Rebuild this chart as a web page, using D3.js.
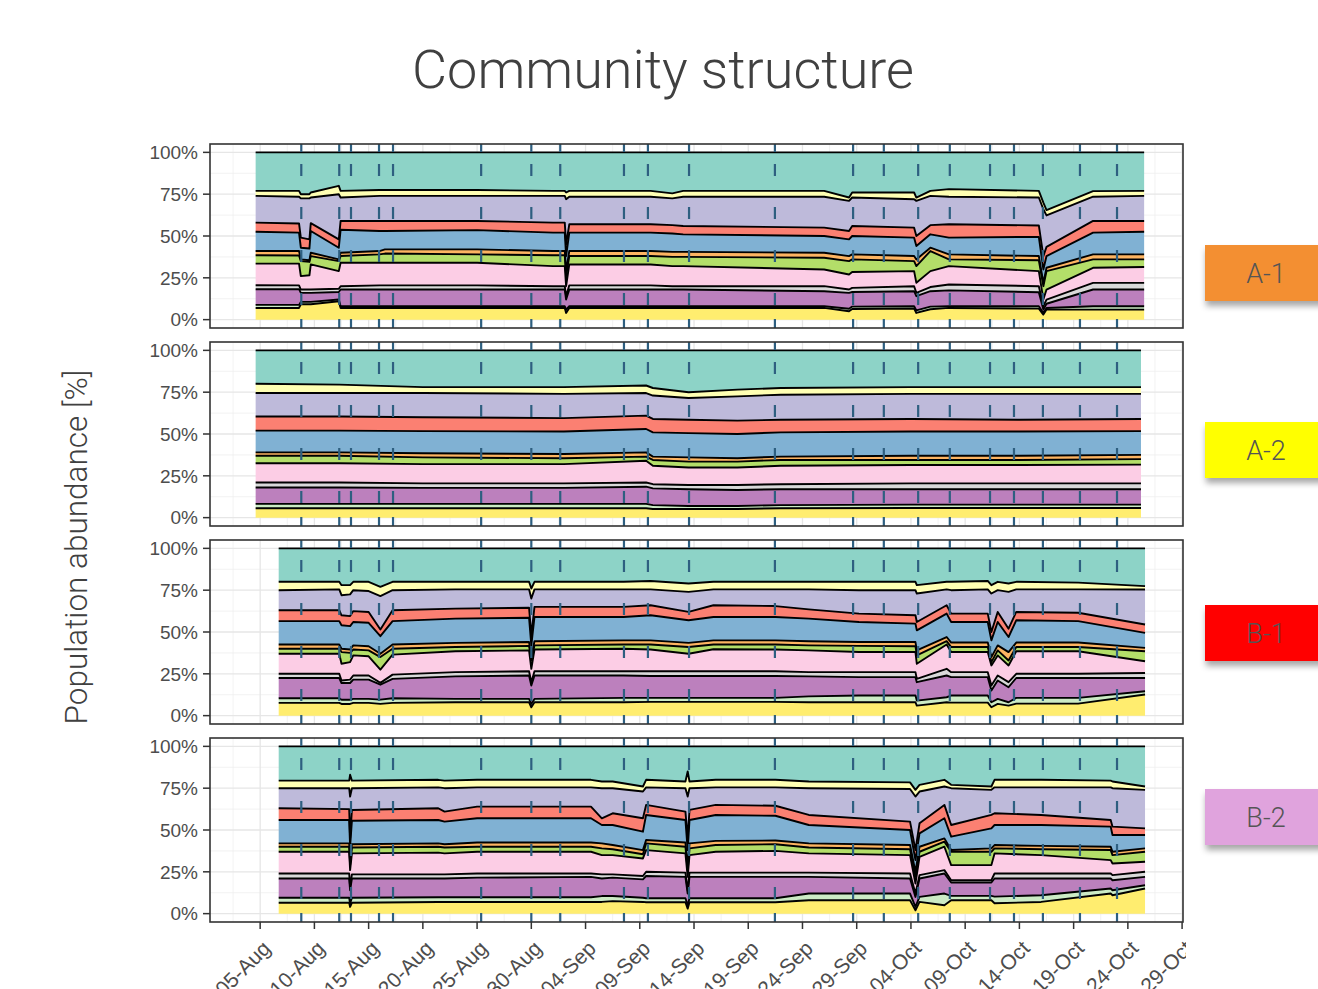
<!DOCTYPE html>
<html>
<head>
<meta charset="utf-8">
<script src="https://cdn.jsdelivr.net/npm/d3@7"></script>
<style>
  body { margin: 0; background: #ffffff; }
  svg { display: block; }
</style>
</head>
<body>
<svg id="chart" width="1318" height="989"></svg>
<script>
// ---------------------------------------------------------------------------
// Data
// ---------------------------------------------------------------------------
// Taxa, listed from the top of the stack to the bottom.
const taxa = ["T01", "T02", "T03", "T04", "T05", "T06", "T07", "T08", "T09", "T10", "T11", "T12"];

// Reactor labels shown at the right of each panel.
const sites = ["A-1", "A-2", "B-1", "B-2"];

// Date axis.
const xLimits = ["2021-07-31 09:00", "2021-10-29 02:00"];
const xTickLabels = ["05-Aug", "10-Aug", "15-Aug", "20-Aug", "25-Aug", "30-Aug", "04-Sep", "09-Sep",
  "14-Sep", "19-Sep", "24-Sep", "29-Sep", "04-Oct", "09-Oct", "14-Oct", "19-Oct", "24-Oct", "29-Oct"];
const yTickValues = [0, 0.25, 0.5, 0.75, 1];

// Operational events marked with dashed lines.
const eventTimes = ["2021-08-08 19:00", "2021-08-12 07:00", "2021-08-13 09:00", "2021-08-15 23:00",
  "2021-08-17 06:00", "2021-08-25 09:00", "2021-08-30 00:00", "2021-09-01 16:00", "2021-09-07 13:00",
  "2021-09-09 18:00", "2021-09-13 13:00", "2021-09-21 11:00", "2021-09-28 16:00", "2021-10-01 12:00",
  "2021-10-04 16:00", "2021-10-07 14:00", "2021-10-11 07:00", "2021-10-13 12:00", "2021-10-16 04:00",
  "2021-10-19 14:00", "2021-10-23 00:00"];

// Relative abundance [%] per sampling time; each row follows the order of `taxa`.
const timesA1 = ["2021-08-04 14:00", "2021-08-08 14:00", "2021-08-08 18:00", "2021-08-09 13:00",
  "2021-08-09 16:00", "2021-08-12 06:00", "2021-08-12 10:00", "2021-08-16 00:00", "2021-08-16 12:00",
  "2021-08-25 00:00", "2021-09-01 00:00", "2021-09-02 02:00", "2021-09-02 05:00", "2021-09-02 12:00",
  "2021-09-10 00:00", "2021-09-12 00:00", "2021-09-13 00:00", "2021-09-26 00:00", "2021-09-28 07:00",
  "2021-09-28 14:00", "2021-10-04 07:00", "2021-10-04 12:00", "2021-10-05 19:00", "2021-10-07 12:00",
  "2021-10-15 19:00", "2021-10-16 05:00", "2021-10-16 12:00", "2021-10-20 19:00", "2021-10-25 12:00"];
const abundA1 = [
  [23, 3, 16, 5.5, 11.5, 2.5, 5, 12.9, 2.4, 9.4, 1.8, 7],
  [23, 3.5, 16, 5.5, 11, 2.7, 4.8, 13, 2.3, 9.4, 1.8, 7],
  [25, 2.5, 23.5, 6, 7, 1, 9, 8, 2, 5.4, 1.4, 9.2],
  [25, 2.5, 24.5, 5.5, 7, 1, 8, 8.5, 2, 5.4, 1.4, 9.2],
  [24, 3, 15.3, 4.7, 13, 2, 5, 15, 2, 5.4, 1.4, 9.2],
  [20, 5, 27, 5, 7, 1, 6, 10.5, 2, 4.5, 1, 11],
  [23, 4, 14, 5.3, 13.7, 2, 4, 14, 2, 10, 1, 7],
  [22.5, 3.5, 15, 6, 12, 2, 5, 13.5, 2.5, 10, 1, 7],
  [22.5, 3.5, 15, 6, 11, 2.5, 5.5, 13.5, 2.5, 10, 1, 7],
  [22.5, 3.5, 15, 5.5, 11.5, 3, 5, 13.5, 2.5, 10, 1, 7],
  [23, 3, 16, 6, 11, 2.5, 6.5, 12, 2, 10, 1, 7],
  [23, 3, 16, 6, 11, 2.5, 6.5, 12, 2, 10, 1, 7],
  [24, 4, 27, 7, 9, 3, 6, 6, 2, 6, 2, 4],
  [23, 3.5, 16.5, 5, 11, 3, 5, 12.5, 2.5, 10, 1, 7],
  [23, 3.5, 16.5, 5, 11, 3, 5, 12.5, 2.5, 10, 1, 7],
  [24.5, 3, 16, 5, 11, 3, 5.5, 12, 2, 10, 1, 7],
  [23, 3.5, 17.5, 5, 10.5, 3, 5.5, 12, 2, 10, 1, 7],
  [23, 3.5, 18.5, 5, 10, 3, 7, 10, 3, 9, 1, 7],
  [27, 2, 18, 5, 10, 3, 8, 9, 2, 9.5, 1.5, 5],
  [24, 3, 17, 6, 11, 3, 7.5, 9.5, 2.5, 8.7, 1.4, 6.4],
  [24, 4, 17, 6, 11, 3, 6, 9, 3, 9, 1.4, 6.6],
  [27, 2, 21, 6, 8, 4, 10, 6, 2, 8.5, 1.5, 4],
  [23, 3, 17.5, 5.5, 8, 2, 12, 9.5, 2.5, 9.2, 1.6, 6.2],
  [22, 4.5, 16.5, 8, 10, 3, 4, 11, 3.5, 9.5, 1, 7],
  [23, 4, 16.7, 6.8, 11.5, 2.5, 6.5, 9, 3.6, 8.4, 1.4, 6.6],
  [30, 4, 28, 8, 8, 2, 8, 4, 2, 2, 1, 3],
  [34.5, 3.2, 18.8, 5.5, 7, 2, 11, 6, 2.5, 2.5, 1, 6],
  [23.2, 3.3, 14.5, 7, 13, 3, 5, 9, 4, 10, 2, 6],
  [23, 3, 15, 6.5, 13.5, 3, 4.5, 9.5, 4, 10, 2, 6]
];

const timesA2 = ["2021-08-04 14:00", "2021-08-12 07:00", "2021-08-20 00:00", "2021-09-02 00:00",
  "2021-09-09 14:00", "2021-09-10 05:00", "2021-09-13 12:00", "2021-09-18 00:00", "2021-09-22 00:00",
  "2021-10-04 00:00", "2021-10-14 00:00", "2021-10-25 05:00"];
const abundA2 = [
  [20, 5.5, 14, 8.5, 13, 2, 4.5, 11.5, 3, 9.8, 2.6, 5.6],
  [20.5, 5, 14, 8.5, 13, 2, 4.5, 11.5, 3, 9.8, 2.6, 5.6],
  [22, 3.5, 14.5, 8.3, 13.2, 2.5, 4, 11.5, 2.7, 9.6, 2.6, 5.6],
  [22, 4, 14.5, 8, 13.5, 2.5, 3.5, 11.5, 2.7, 9.6, 2.6, 5.6],
  [21, 4.5, 13.5, 8, 14, 2.5, 2.5, 13, 2.5, 10.3, 2.6, 5.6],
  [22.5, 4.5, 14, 8, 14.5, 2, 3.5, 11, 2.5, 10, 2.3, 5.2],
  [25, 3.5, 13, 8, 14.5, 2.5, 3.5, 10.5, 2.5, 10, 1.8, 5.2],
  [23.5, 4, 14.5, 8, 14.5, 2, 3.5, 10.5, 3, 9.5, 1.8, 5.2],
  [22.5, 4, 15, 7.5, 14.5, 2, 3.5, 11, 3, 9.5, 1.9, 5.6],
  [22, 4, 15, 7.5, 14.5, 2.5, 3, 11, 3.5, 9.2, 2, 5.8],
  [22, 4, 15.5, 7, 14.5, 2.5, 3, 11, 3.5, 9.2, 2, 5.8],
  [22, 4, 15, 7.3, 14.2, 2.5, 3.3, 11.2, 3.5, 9.2, 2, 5.8]
];

const timesB1 = ["2021-08-06 17:00", "2021-08-12 07:00", "2021-08-12 12:00", "2021-08-13 07:00",
  "2021-08-13 14:00", "2021-08-15 00:00", "2021-08-16 02:00", "2021-08-17 05:00", "2021-08-23 00:00",
  "2021-08-29 19:00", "2021-08-30 00:00", "2021-08-30 07:00", "2021-09-07 12:00", "2021-09-10 00:00",
  "2021-09-13 12:00", "2021-09-15 19:00", "2021-09-21 12:00", "2021-09-24 14:00", "2021-09-29 05:00",
  "2021-10-04 10:00", "2021-10-04 13:00", "2021-10-07 07:00", "2021-10-07 17:00", "2021-10-11 02:00",
  "2021-10-11 10:00", "2021-10-12 00:00", "2021-10-13 00:00", "2021-10-13 17:00", "2021-10-19 10:00",
  "2021-10-25 14:00"];
const abundB1 = [
  [20, 5, 12, 6.5, 14, 2.5, 3, 12, 2.5, 12.1, 2.8, 7.6],
  [20, 4.5, 12.5, 6.5, 14, 2.5, 3, 12, 2.5, 12.1, 2.8, 7.6],
  [22, 6, 12, 6, 14, 2, 7, 10, 1.5, 10, 2.5, 7],
  [22, 5.5, 13, 6, 14, 2, 5.5, 10.5, 2, 10, 2.5, 7],
  [20, 5, 12.5, 6.5, 14, 2.5, 3.5, 12, 2.5, 11.5, 2.4, 7.6],
  [20, 5.5, 12.5, 6.5, 14, 2.5, 3.5, 11.5, 2.5, 11.5, 2.4, 7.6],
  [23, 5.5, 20, 4, 10.5, 2, 7.5, 7.9, 1.1, 8.9, 2.6, 7],
  [20, 5, 12, 6.5, 14, 2.5, 3.5, 12, 2.5, 11.6, 2.8, 7.6],
  [20, 4.5, 11.5, 6, 14.5, 2.5, 2.5, 12.5, 2.5, 13.5, 2, 8],
  [20, 4.5, 11, 6, 14.5, 2.3, 2.7, 12.5, 2.5, 14, 2, 8],
  [24, 6, 22, 6, 7, 2, 5, 8, 2, 11, 2, 5],
  [20, 4.5, 10.5, 6, 14.5, 2.5, 2.5, 13, 2.5, 14, 2, 8],
  [20, 4.5, 10.5, 6, 14, 2.5, 2.5, 13.5, 2.5, 13.4, 2.6, 8],
  [19.5, 5, 9.5, 6, 15, 2.5, 3, 13, 2.8, 13.1, 2.4, 8.2],
  [21, 5, 12, 5, 13.5, 2.5, 4, 10.5, 2.8, 13.1, 2.4, 8.2],
  [20, 4.5, 9.5, 7, 14, 2.5, 2.8, 13.2, 2.8, 13.1, 2.4, 8.2],
  [20, 4.5, 10, 6.5, 14, 2.5, 3, 13, 2.8, 13.1, 2.4, 8.2],
  [20, 4.5, 12, 5.5, 13.5, 2.5, 3, 13, 2.5, 12, 3.5, 8],
  [20, 5, 14, 5, 12, 2.3, 3.7, 12, 3, 11, 4, 8],
  [20, 5, 15, 5, 11, 2.5, 3.5, 12, 3, 11, 4, 8],
  [22, 5, 17, 5, 12, 3, 5, 9, 2, 11, 3, 6],
  [20, 4.5, 9.5, 5, 14, 2.5, 2, 14.5, 4, 13, 3, 8],
  [20, 5, 14, 5, 12.3, 2.7, 3, 12, 3, 11, 4.2, 7.8],
  [19.5, 5, 14.5, 5, 12.3, 2.7, 3, 12, 3, 11, 4.2, 7.8],
  [22, 5, 23, 5, 10, 3, 2, 12, 3, 7, 3, 5],
  [20, 5, 13, 6, 14, 3, 3, 12, 3, 11, 3, 7],
  [21, 5, 22, 5, 9, 5, 3, 10, 3, 9, 2, 6],
  [20, 4.5, 13.5, 5, 13.3, 2.7, 2.5, 13.5, 2.5, 11.9, 3.4, 7.2],
  [20.5, 4, 14, 5, 12.8, 2.7, 2.5, 13.5, 2.5, 11.9, 3.4, 7.2],
  [22.6, 2, 20.9, 5, 9, 2, 6, 7, 3, 7.9, 2, 12.6]
];

const timesB2 = ["2021-08-06 17:00", "2021-08-13 05:00", "2021-08-13 07:00", "2021-08-13 11:00",
  "2021-08-21 10:00", "2021-08-22 00:00", "2021-08-25 00:00", "2021-09-04 12:00", "2021-09-05 12:00",
  "2021-09-06 12:00", "2021-09-09 07:00", "2021-09-09 14:00", "2021-09-13 05:00", "2021-09-13 10:00",
  "2021-09-13 14:00", "2021-09-16 00:00", "2021-09-21 12:00", "2021-09-24 14:00", "2021-10-03 22:00",
  "2021-10-04 10:00", "2021-10-04 19:00", "2021-10-07 02:00", "2021-10-07 17:00", "2021-10-11 10:00",
  "2021-10-11 17:00", "2021-10-16 00:00", "2021-10-22 10:00", "2021-10-22 14:00", "2021-10-25 14:00"];
const abundB2 = [
  [20.5, 4.5, 12, 7, 14, 2, 3, 13, 3, 11.5, 3, 6.5],
  [20.5, 4.5, 12.5, 6.5, 14, 2, 3, 13, 3, 11.5, 3, 6.5],
  [17, 13, 25, 5, 9, 2, 3, 10, 2, 8, 2, 4],
  [20.5, 4.5, 13, 6.5, 14, 2, 3.5, 12.5, 2.5, 11.5, 3, 6.5],
  [20, 4.5, 12.5, 7, 14, 2, 3.5, 13, 2.5, 11.2, 2.8, 7],
  [20.5, 4.5, 14, 6, 13.5, 2, 3.5, 12.5, 2.5, 11.2, 2.8, 7],
  [20, 4.5, 11.5, 7, 14.5, 2.5, 3, 13, 2.5, 11.7, 2.8, 7],
  [20, 4.5, 11.5, 7, 14.5, 2.5, 3, 13, 2, 12.2, 2.8, 7],
  [21, 4, 18, 4, 11, 3, 4, 11.5, 2.5, 10.5, 3.5, 7],
  [21, 4, 15, 7, 12, 2.5, 3.5, 11.5, 2, 11, 3, 7.5],
  [24, 3, 16, 8, 11, 2.5, 2.5, 10.5, 2, 11, 2.5, 7],
  [20, 4.5, 10.5, 6, 15, 2, 4, 13, 2.5, 13.3, 2.4, 6.8],
  [21, 4, 14, 5, 13.5, 2.5, 4, 11.5, 2.5, 12.8, 2.4, 6.8],
  [15, 15, 25, 7, 10, 2, 4, 8, 2, 7, 2, 3],
  [21, 4, 13, 6, 14, 3, 4, 10.5, 2.5, 12.8, 2.4, 6.8],
  [20, 4.5, 10.5, 6, 15.5, 2.5, 4, 12.5, 2.5, 12.8, 2.4, 6.8],
  [20, 4.5, 11, 6, 14.8, 2.2, 4, 13, 2.5, 12.8, 2.4, 6.8],
  [21, 4, 16, 6, 11, 2.5, 3.5, 11.5, 2.5, 10, 4, 8],
  [21.5, 4, 19.5, 5, 9, 2.5, 3.5, 11, 3, 9, 4, 8],
  [26, 4, 32, 6, 7, 3, 4, 6, 2, 6, 2, 2],
  [23, 4, 19, 6, 8, 3, 3, 11, 2, 11, 3, 7],
  [20, 4, 11, 8, 12, 2, 3, 14, 2, 12, 7, 5],
  [23, 2, 22, 7, 8, 1, 8, 9, 1.4, 8, 2.6, 8],
  [24, 2, 15, 8, 12, 2, 8, 9, 1.4, 8, 2.6, 8],
  [20, 4.5, 15.5, 7, 12, 2, 3, 12, 3, 10.8, 4, 6.2],
  [20, 4.5, 16.5, 6, 12.5, 2, 3.5, 11, 3, 10, 4, 7],
  [20.5, 4, 19.5, 4, 12, 2, 6, 8, 3, 6, 3, 12],
  [21, 4, 23, 5, 10, 2, 5, 7, 3, 6, 3, 11],
  [24, 2, 23, 4, 8, 2, 6, 6, 3, 5, 2, 15]
];

// ---------------------------------------------------------------------------
// Styling and layout
// ---------------------------------------------------------------------------
const taxonColors = d3.schemeSet3;                 // 12 colours, top of stack first
const siteColors = ["#F38F32", "#FFFF00", "#FF0000", "#E0A3DD"];
const siteBoxTops = [245, 422, 605, 789];

const plotLeft = 210, plotRight = 1183;
const panelTops = [144, 342, 540, 738];
const panelH = 184;
const figureRight = 1186;                           // the figure is cropped here

// dash pattern of the event markers, measured from the top of each panel
const eventDash = "8,12,12,31,12,31,12,31,12,14,9,60";

const axisFont = "'Liberation Sans', Arial, sans-serif";
const lightFont = "Roboto, 'Open Sans', sans-serif";

const parseTime = d3.timeParse("%Y-%m-%d %H:%M");
const parseTick = d3.timeParse("%d-%b-%Y");

const svg = d3.select("#chart");
svg.append("rect").attr("width", 1318).attr("height", 989).attr("fill", "#ffffff");

const defs = svg.append("defs");
const shadow = defs.append("filter").attr("id", "boxShadow")
  .attr("x", "-10%").attr("y", "-20%").attr("width", "130%").attr("height", "170%");
shadow.append("feDropShadow").attr("dx", 1).attr("dy", 5).attr("stdDeviation", 3)
  .attr("flood-color", "#000").attr("flood-opacity", 0.35);
defs.append("clipPath").attr("id", "figureClip")
  .append("rect").attr("x", 0).attr("y", 0).attr("width", figureRight).attr("height", 989);

const x = d3.scaleTime().domain(xLimits.map(parseTime)).range([plotLeft, plotRight]);
const tickDates = xTickLabels.map(l => parseTick(l + "-2021"));
const minorDates = [];
tickDates.forEach(t => {
  [d3.timeHour.offset(t, -60), d3.timeHour.offset(t, 60)].forEach(m => {
    if (m >= x.domain()[0] && m <= x.domain()[1] && !minorDates.some(o => +o === +m)) minorDates.push(m);
  });
});
const events = eventTimes.map(parseTime);

// Title
svg.append("text")
  .attr("x", 663).attr("y", 88)
  .attr("text-anchor", "middle")
  .attr("font-family", lightFont).attr("font-weight", 300)
  .attr("font-size", 54).attr("fill", "#404040")
  .text("Community structure");

// Y axis title
svg.append("text")
  .attr("transform", "translate(87,547) rotate(-90)")
  .attr("text-anchor", "middle")
  .attr("font-family", lightFont).attr("font-weight", 300)
  .attr("font-size", 31.5).attr("fill", "#404040")
  .text("Population abundance [%]");

const panels = [
  { times: timesA1, rows: abundA1 },
  { times: timesA2, rows: abundA2 },
  { times: timesB1, rows: abundB1 },
  { times: timesB2, rows: abundB2 }
];

const stackKeys = taxa.slice().reverse();          // bottom layer first
const colorOf = d3.scaleOrdinal().domain(taxa).range(taxonColors);

panels.forEach((p, i) => {
  const top = panelTops[i];
  const bottom = top + panelH;
  const y = d3.scaleLinear().domain([-0.05, 1.05]).range([bottom, top]);

  const records = p.times.map((t, j) => {
    const rec = { date: parseTime(t) };
    taxa.forEach((k, m) => { rec[k] = p.rows[j][m]; });
    return rec;
  });
  const layers = d3.stack().keys(stackKeys).offset(d3.stackOffsetExpand)(records);

  const g = svg.append("g");
  const clipId = "clip" + i;
  defs.append("clipPath").attr("id", clipId)
    .append("rect").attr("x", plotLeft).attr("y", top).attr("width", plotRight - plotLeft).attr("height", panelH);

  g.append("rect").attr("x", plotLeft).attr("y", top)
    .attr("width", plotRight - plotLeft).attr("height", panelH).attr("fill", "#ffffff");

  // grid
  const grid = g.append("g").attr("clip-path", `url(#${clipId})`);
  grid.selectAll(".vminor").data(minorDates).join("line")
    .attr("x1", d => x(d)).attr("x2", d => x(d)).attr("y1", top).attr("y2", bottom)
    .attr("stroke", "#EFEFEF").attr("stroke-width", 0.8);
  grid.selectAll(".hminor").data([0.125, 0.375, 0.625, 0.875]).join("line")
    .attr("x1", plotLeft).attr("x2", plotRight).attr("y1", d => y(d)).attr("y2", d => y(d))
    .attr("stroke", "#EFEFEF").attr("stroke-width", 0.8);
  grid.selectAll(".vmajor").data(tickDates).join("line")
    .attr("x1", d => x(d)).attr("x2", d => x(d)).attr("y1", top).attr("y2", bottom)
    .attr("stroke", "#E6E6E6").attr("stroke-width", 1.3);
  grid.selectAll(".hmajor").data(yTickValues).join("line")
    .attr("x1", plotLeft).attr("x2", plotRight).attr("y1", d => y(d)).attr("y2", d => y(d))
    .attr("stroke", "#E6E6E6").attr("stroke-width", 1.3);

  const plot = g.append("g").attr("clip-path", `url(#${clipId})`);
  const area = d3.area()
    .x(d => x(d.data.date)).y0(d => y(d[0])).y1(d => y(d[1]));
  const upper = d3.line()
    .x(d => x(d.data.date)).y(d => y(d[1]));

  plot.selectAll(".layer").data(layers).join("path")
    .attr("d", area).attr("fill", d => colorOf(d.key)).attr("stroke", "none");
  plot.selectAll(".edge").data(layers).join("path")
    .attr("d", upper).attr("fill", "none").attr("stroke", "#000000")
    .attr("stroke-width", 1.9).attr("stroke-linejoin", "round");

  // event markers
  plot.selectAll(".event").data(events).join("line")
    .attr("x1", d => x(d)).attr("x2", d => x(d)).attr("y1", top).attr("y2", bottom)
    .attr("stroke", "#2E5F80").attr("stroke-width", 2.2)
    .attr("stroke-dasharray", eventDash);

  // panel border
  g.append("rect").attr("x", plotLeft).attr("y", top)
    .attr("width", plotRight - plotLeft).attr("height", panelH)
    .attr("fill", "none").attr("stroke", "#333333").attr("stroke-width", 1.6);

  // y axis
  const ya = g.append("g");
  ya.selectAll("line").data(yTickValues).join("line")
    .attr("x1", plotLeft - 7).attr("x2", plotLeft).attr("y1", d => y(d)).attr("y2", d => y(d))
    .attr("stroke", "#333333").attr("stroke-width", 1.5);
  ya.selectAll("text").data(yTickValues).join("text")
    .attr("x", plotLeft - 12).attr("y", d => y(d)).attr("dy", "0.36em")
    .attr("text-anchor", "end")
    .attr("font-family", axisFont).attr("font-size", 19).attr("fill", "#4D4D4D")
    .text(d => d3.format(".0%")(d));

  // reactor label
  const bt = siteBoxTops[i];
  svg.append("rect").attr("x", 1205).attr("y", bt).attr("width", 120).attr("height", 56)
    .attr("fill", siteColors[i]).attr("filter", "url(#boxShadow)");
  svg.append("text").attr("x", 1266).attr("y", bt + 28).attr("dy", "0.36em")
    .attr("text-anchor", "middle")
    .attr("font-family", lightFont).attr("font-weight", 300)
    .attr("font-size", 27).attr("fill", "#555555")
    .text(sites[i]);

  // x axis on the last panel only
  if (i === panels.length - 1) {
    const xa = g.append("g").attr("clip-path", "url(#figureClip)");
    xa.selectAll("line").data(tickDates).join("line")
      .attr("x1", d => x(d)).attr("x2", d => x(d)).attr("y1", bottom).attr("y2", bottom + 7)
      .attr("stroke", "#333333").attr("stroke-width", 1.5);
    xa.selectAll("text").data(tickDates).join("text")
      .attr("transform", d => `translate(${x(d) + 1},${bottom + 17}) rotate(-45)`)
      .attr("dy", "0.72em")
      .attr("text-anchor", "end")
      .attr("font-family", axisFont).attr("font-size", 21).attr("fill", "#4D4D4D")
      .text((d, k) => xTickLabels[k]);
  }
});
</script>
</body>
</html>
